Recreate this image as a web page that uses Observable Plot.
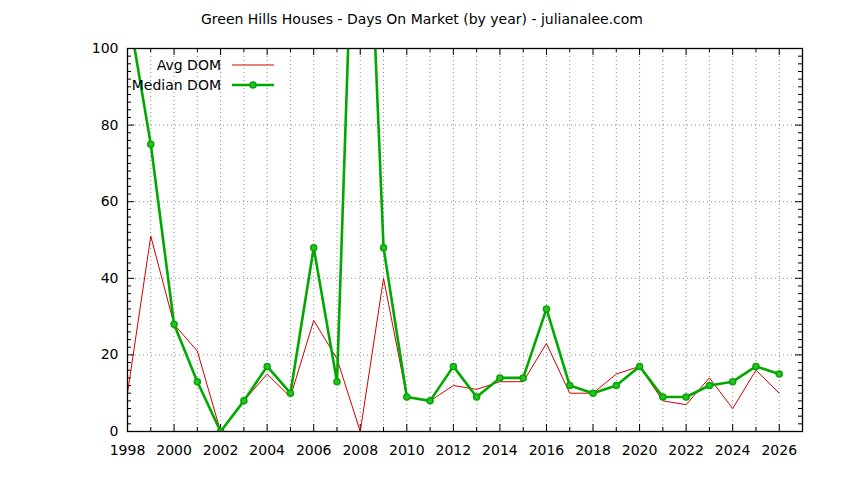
<!DOCTYPE html>
<html>
<head>
<meta charset="utf-8">
<script src="https://cdn.jsdelivr.net/npm/d3@7"></script>
<script src="https://cdn.jsdelivr.net/npm/@observablehq/plot@0.6"></script>
<style>
  html, body { margin: 0; padding: 0; background: white; }
  #wrap { position: relative; width: 844px; font-family: "DejaVu Sans", sans-serif; }
  #title { height: 30px; line-height: 38px; text-align: center; font-size: 14px; color: #000; }
</style>
</head>
<body>
<div id="wrap">
  <div id="title">Green Hills Houses - Days On Market (by year) - julianalee.com</div>
  <div id="chart"></div>
</div>
<script>
const years = [1998,1999,2000,2001,2002,2003,2004,2005,2006,2007,2008,2009,2010,2011,2012,2013,2014,2015,2016,2017,2018,2019,2020,2021,2022,2023,2024,2025,2026];
const avgDom = [10,51,28,21,0,8,15,9,29,19,0,40,9,8,12,11,13,13,23,10,10,15,17,8,7,14,6,16,10];
const medianDom = [111,75,28,13,0,8,17,10,48,13,195,48,9,8,17,9,14,14,32,12,10,12,17,9,9,12,13,17,15];
const xLabels = [1998,2000,2002,2004,2006,2008,2010,2012,2014,2016,2018,2020,2022,2024,2026];
const yLabels = [0,20,40,60,80,100];
const seriesNames = ["Avg DOM", "Median DOM"];

const avgData = years.map((y, i) => ({year: y, value: avgDom[i]}));
const medData = years.map((y, i) => ({year: y, value: medianDom[i]}));
const xMinor = years.filter(y => !xLabels.includes(y));
const yMinor = d3.range(0, 101, 2).filter(v => !yLabels.includes(v));
const gridX = years.slice(1);
const gridY = yLabels.slice(1, -1);

const W = 844, H = 450, mt = 18, mb = 49, ml = 127, mr = 42;
const fh = H - mt - mb, fw = W - ml - mr;
const RED = "#d40000", GREEN = "#00a800";

const chart = Plot.plot({
  width: W, height: H,
  marginTop: mt, marginBottom: mb, marginLeft: ml, marginRight: mr,
  style: {fontFamily: "DejaVu Sans, sans-serif", fontSize: "14px", background: "white", color: "black"},
  x: {domain: [1998, 2027], label: null},
  y: {domain: [0, 100], label: null},
  marks: [
    Plot.gridX(gridX, {stroke: "#8c8c8c", strokeOpacity: 1, strokeDasharray: "1,3", strokeWidth: 1}),
    Plot.gridY(gridY, {stroke: "#8c8c8c", strokeOpacity: 1, strokeDasharray: "1,3", strokeWidth: 1}),
    // bottom & top ticks
    Plot.tickX(xLabels, {x: d => d, insetTop: fh - 7, stroke: "black"}),
    Plot.tickX(xMinor, {x: d => d, insetTop: fh - 4, stroke: "black"}),
    Plot.tickX(xLabels, {x: d => d, insetBottom: fh - 7, stroke: "black"}),
    Plot.tickX(xMinor, {x: d => d, insetBottom: fh - 4, stroke: "black"}),
    // left & right ticks
    Plot.tickY(yLabels, {y: d => d, insetRight: fw - 7, stroke: "black"}),
    Plot.tickY(yMinor, {y: d => d, insetRight: fw - 4, stroke: "black"}),
    Plot.tickY(yLabels, {y: d => d, insetLeft: fw - 7, stroke: "black"}),
    Plot.tickY(yMinor, {y: d => d, insetLeft: fw - 4, stroke: "black"}),
    Plot.axisX(xLabels, {tickSize: 0, tickPadding: 14, tickFormat: d => String(d), fontSize: 14}),
    Plot.axisY(yLabels, {tickSize: 0, tickPadding: 9, tickFormat: d => String(d), fontSize: 14}),
    Plot.line(avgData, {x: "year", y: "value", stroke: RED, strokeWidth: 1, clip: true}),
    Plot.line(medData, {x: "year", y: "value", stroke: GREEN, strokeWidth: 2.6, clip: true}),
    Plot.dot(medData, {x: "year", y: "value", r: 3, fill: "#2cbf2c", stroke: GREEN, strokeWidth: 1.5, clip: true}),
    Plot.frame({stroke: "black", strokeWidth: 1.3})
  ]
});
document.getElementById("chart").appendChild(chart);

// legend (inside the plot, top-left)
const svg = d3.select(chart);
const lg = svg.append("g").attr("font-family", "DejaVu Sans, sans-serif").attr("font-size", "14px");
const rows = [
  {name: seriesNames[0], color: RED, width: 1, dot: false},
  {name: seriesNames[1], color: GREEN, width: 2.6, dot: true}
];
rows.forEach((r, i) => {
  const cy = 35 + i * 20;
  lg.append("text").attr("x", 221).attr("y", cy).attr("dy", "0.35em").attr("text-anchor", "end").attr("fill", "black").text(r.name);
  lg.append("line").attr("x1", 232).attr("x2", 274).attr("y1", cy).attr("y2", cy).attr("stroke", r.color).attr("stroke-width", r.width);
  if (r.dot) lg.append("circle").attr("cx", 253).attr("cy", cy).attr("r", 3).attr("fill", "#2cbf2c").attr("stroke", r.color).attr("stroke-width", 1.5);
});
</script>
</body>
</html>
